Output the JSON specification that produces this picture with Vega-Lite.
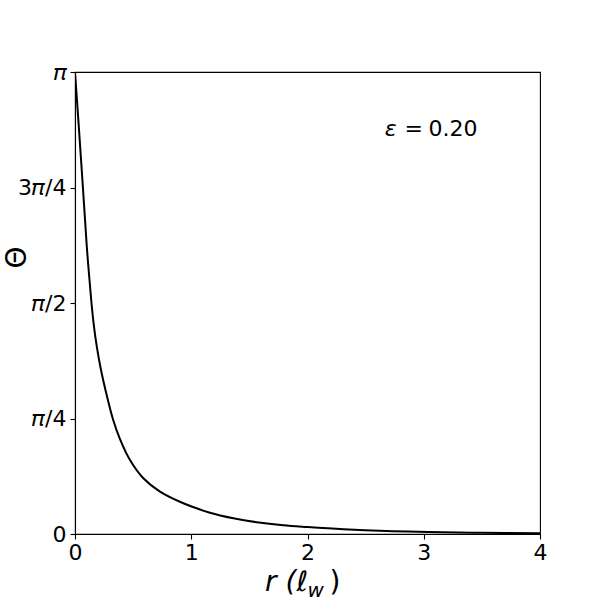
{
  "$schema": "https://vega.github.io/schema/vega-lite/v6.json",
  "width": 465,
  "height": 462,
  "autosize": {"type": "none"},
  "padding": {"left": 75, "top": 72, "right": 60, "bottom": 66},
  "background": "white",
  "config": {"view": {"stroke": "black", "strokeWidth": 1.1}, "font": "DejaVu Sans"},
  "layer": [
    {
      "data": {"values": [
        {"r": 0, "theta": 3.1416},
        {"r": 0.0327, "theta": 2.77},
        {"r": 0.068, "theta": 2.356},
        {"r": 0.1015, "theta": 1.954},
        {"r": 0.1394, "theta": 1.591},
        {"r": 0.16, "theta": 1.433},
        {"r": 0.1875, "theta": 1.274},
        {"r": 0.2237, "theta": 1.115},
        {"r": 0.283, "theta": 0.911},
        {"r": 0.3286, "theta": 0.775},
        {"r": 0.387, "theta": 0.645},
        {"r": 0.473, "theta": 0.503},
        {"r": 0.588, "theta": 0.379},
        {"r": 0.731, "theta": 0.288},
        {"r": 0.932, "theta": 0.209},
        {"r": 1.161, "theta": 0.145},
        {"r": 1.362, "theta": 0.107},
        {"r": 1.563, "theta": 0.08},
        {"r": 1.792, "theta": 0.059},
        {"r": 2.0, "theta": 0.047},
        {"r": 2.31, "theta": 0.032},
        {"r": 2.68, "theta": 0.02},
        {"r": 3.04, "theta": 0.014},
        {"r": 3.5, "theta": 0.008},
        {"r": 4.0, "theta": 0.005}
      ]},
      "mark": {"type": "line", "color": "black", "strokeWidth": 2, "interpolate": "catmull-rom", "clip": true},
      "encoding": {
        "x": {
          "field": "r", "type": "quantitative",
          "scale": {"domain": [0, 4], "nice": false, "zero": false},
          "axis": {
            "values": [0, 1, 2, 3, 4], "format": "d", "title": null, "grid": false,
            "domainColor": "black", "domainWidth": 1.1,
            "tickColor": "black", "tickWidth": 1.1, "tickSize": 5,
            "labelFontSize": 22, "labelColor": "black", "labelPadding": 3,
            "labelFont": "DejaVu Sans", "labelFlush": false
          }
        },
        "y": {
          "field": "theta", "type": "quantitative",
          "scale": {"domain": [0, 3.1416], "nice": false, "zero": false},
          "axis": {
            "values": [0, 0.785398, 1.570796, 2.356194, 3.1416],
            "labelExpr": "datum.value < 0.1 ? '0' : datum.value < 1 ? '𝜋/4' : datum.value < 2 ? '𝜋/2' : datum.value < 3 ? '3𝜋/4' : '𝜋'",
            "grid": false,
            "domainColor": "black", "domainWidth": 1.1,
            "tickColor": "black", "tickWidth": 1.1, "tickSize": 5,
            "labelFontSize": 22, "labelColor": "black", "labelPadding": 4,
            "labelFont": "DejaVu Sans", "labelFlush": false,
            "title": "Θ", "titleFont": "DejaVu Sans", "titleFontSize": 28,
            "titleFontWeight": "normal", "titleColor": "black",
            "titleAngle": -90, "titleX": -58, "titleY": 185,
            "titleAlign": "center", "titleBaseline": "middle"
          }
        }
      }
    },
    {
      "data": {"values": [{"label": "ε", "r": 2.665, "theta": 2.754}]},
      "mark": {"type": "text", "align": "left", "baseline": "middle", "fontSize": 22, "fontStyle": "italic", "font": "DejaVu Sans", "color": "black"},
      "encoding": {"x": {"field": "r", "type": "quantitative"}, "y": {"field": "theta", "type": "quantitative"}, "text": {"field": "label"}}
    },
    {
      "data": {"values": [{"label": "=", "r": 2.835, "theta": 2.754}, {"label": "0.20", "r": 3.04, "theta": 2.754}]},
      "mark": {"type": "text", "align": "left", "baseline": "middle", "fontSize": 22, "font": "DejaVu Sans", "color": "black"},
      "encoding": {"x": {"field": "r", "type": "quantitative"}, "y": {"field": "theta", "type": "quantitative"}, "text": {"field": "label"}}
    },
    {
      "data": {"values": [{"label": "r (ℓ", "r": 2.004, "theta": -0.39}]},
      "mark": {"type": "text", "align": "right", "baseline": "alphabetic", "fontSize": 28, "fontStyle": "italic", "font": "DejaVu Sans", "color": "black"},
      "encoding": {"x": {"field": "r", "type": "quantitative"}, "y": {"field": "theta", "type": "quantitative"}, "text": {"field": "label"}}
    },
    {
      "data": {"values": [{"label": "w", "r": 2.0, "theta": -0.43}]},
      "mark": {"type": "text", "align": "left", "baseline": "alphabetic", "fontSize": 20, "fontStyle": "italic", "font": "DejaVu Sans", "color": "black"},
      "encoding": {"x": {"field": "r", "type": "quantitative"}, "y": {"field": "theta", "type": "quantitative"}, "text": {"field": "label"}}
    },
    {
      "data": {"values": [{"label": ")", "r": 2.19, "theta": -0.39}]},
      "mark": {"type": "text", "align": "left", "baseline": "alphabetic", "fontSize": 28, "font": "DejaVu Sans", "color": "black"},
      "encoding": {"x": {"field": "r", "type": "quantitative"}, "y": {"field": "theta", "type": "quantitative"}, "text": {"field": "label"}}
    }
  ]
}
